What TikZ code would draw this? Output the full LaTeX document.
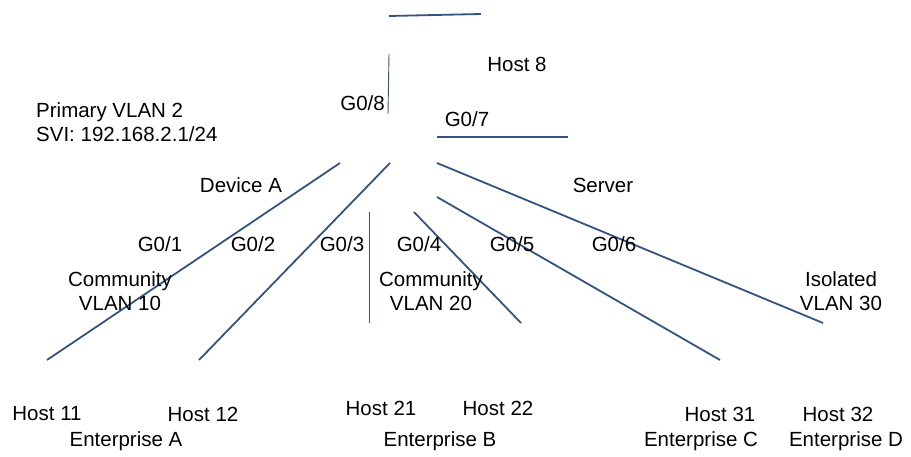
\documentclass[tikz,border=0pt]{standalone}
\usepackage{fontspec}
\setmainfont{Liberation Sans}
\definecolor{linkblue}{RGB}{52,84,128}
\begin{document}
\begin{tikzpicture}[x=1pt,y=-1pt,
  lbl/.style={inner sep=0pt,font=\fontsize{20.5}{23.5}\selectfont,text=black},
  link/.style={draw=linkblue,line width=1.8pt},
  thin/.style={draw=linkblue,line width=0.9pt}]
\useasboundingbox (0,0) rectangle (911,457);
% coordinates of link ends
\coordinate (t1) at (389,16); \coordinate (t2) at (481,14);
\coordinate (v8a) at (389,54); \coordinate (v8b) at (388,114);
\coordinate (h7a) at (437,137); \coordinate (h7b) at (568,137);
\coordinate (p1a) at (340,163); \coordinate (p1b) at (47,360);
\coordinate (p2a) at (390,163); \coordinate (p2b) at (199,360);
\coordinate (p3a) at (369,212); \coordinate (p3b) at (369,323);
\coordinate (p4a) at (414,212); \coordinate (p4b) at (521,323);
\coordinate (p5a) at (437,197); \coordinate (p5b) at (720,360);
\coordinate (p6a) at (437,163); \coordinate (p6b) at (823,323);
% links
\draw[link] (t1) -- (t2);
\draw[thin] (v8a) -- (v8b);
\draw[link] (h7a) -- (h7b);
\draw[link] (p1a) -- (p1b);
\draw[link] (p2a) -- (p2b);
\draw[thin] (p3a) -- (p3b);
\draw[link] (p4a) -- (p4b);
\draw[link] (p5a) -- (p5b);
\draw[link] (p6a) -- (p6b);
% labels
\node[lbl] (host8) at (517,64) {Host 8};
\node[lbl,anchor=east] (g08) at (385,103) {G0/8};
\node[lbl] (g07) at (467,119) {G0/7};
\node[lbl,anchor=west,align=left] (prim) at (36,122) {Primary VLAN 2\\SVI: 192.168.2.1/24};
\node[lbl] (devA) at (241,185) {Device A};
\node[lbl] (server) at (603,185) {Server};
\node[lbl] (g01) at (160,244) {G0/1};
\node[lbl] (g02) at (253,244) {G0/2};
\node[lbl] (g03) at (342,244) {G0/3};
\node[lbl] (g04) at (419,244) {G0/4};
\node[lbl] (g05) at (512,244) {G0/5};
\node[lbl] (g06) at (614,244) {G0/6};
\node[lbl,align=center] (c10) at (120,291) {Community\\VLAN 10};
\node[lbl,align=center] (c20) at (431,291) {Community\\VLAN 20};
\node[lbl,align=center] (i30) at (841,291) {Isolated\\VLAN 30};
\node[lbl] (h11) at (47,414) {Host 11};
\node[lbl] (h12) at (203,414) {Host 12};
\node[lbl] (h21) at (381,408) {Host 21};
\node[lbl] (h22) at (498,408) {Host 22};
\node[lbl] (h31) at (720,414) {Host 31};
\node[lbl] (h32) at (838,414) {Host 32};
\node[lbl] (entA) at (126,441) {Enterprise A};
\node[lbl] (entB) at (440,441) {Enterprise B};
\node[lbl] (entC) at (701,441) {Enterprise C};
\node[lbl] (entD) at (846,441) {Enterprise D};
\end{tikzpicture}
\end{document}
